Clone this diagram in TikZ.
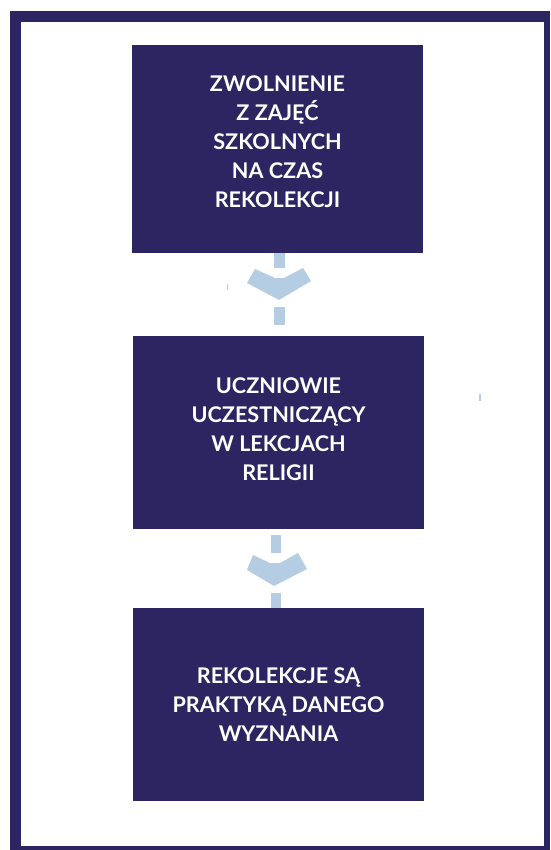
\documentclass[tikz,border=0pt]{standalone}
\usepackage{fontspec}
\setmainfont{Lato}
\definecolor{navy}{RGB}{44,37,98}
\definecolor{pale}{RGB}{181,205,226}

\begin{document}
\begin{tikzpicture}[x=1pt,y=-1pt,
        box/.style={rectangle,fill=navy,text=white,align=center,inner sep=0pt,
            minimum width=291pt,font=\bfseries\fontsize{21.6}{29}\selectfont},
        chev/.style={fill=pale}]
	\useasboundingbox (0,0) rectangle (550,850);
	\fill[navy] (10,11) rectangle (550,850);
	\fill[white] (21,22) rectangle (544,846);

	\node[box,minimum height=208pt,text depth=14pt] (zw) at (277.5,149)
		{ZWOLNIENIE\\ Z ZAJĘĆ\\SZKOLNYCH\\NA CZAS\\REKOLEKCJI};
	\node[box,minimum height=193pt,text depth=7pt] (ucz) at (278.5,432.5)
		{UCZNIOWIE\\UCZESTNICZĄCY\\W LEKCJACH\\RELIGII};
	\node[box,minimum height=193pt] (rek) at (278.5,704.5)
		{REKOLEKCJE SĄ\\PRAKTYKĄ DANEGO\\WYZNANIA};

	\fill[chev] (274,253) rectangle (285,268);
	\fill[chev] (255,269) -- (275,278) -- (284,278) -- (303,268) -- (311,281)
		-- (279,300) -- (247,283) -- cycle;
	\fill[chev] (274,307) rectangle (285,325);

	\fill[chev] (271,535) rectangle (281,553);
	\fill[chev] (253,555) -- (270,563) -- (280,563) -- (298,553) -- (307,569)
		-- (274,586) -- (247,570) -- cycle;
	\fill[chev] (271,593) rectangle (281,608);

	\fill[chev] (226.5,284) rectangle (228,290);
	\fill[chev] (479,394) rectangle (481,401);
\end{tikzpicture}
\end{document}
